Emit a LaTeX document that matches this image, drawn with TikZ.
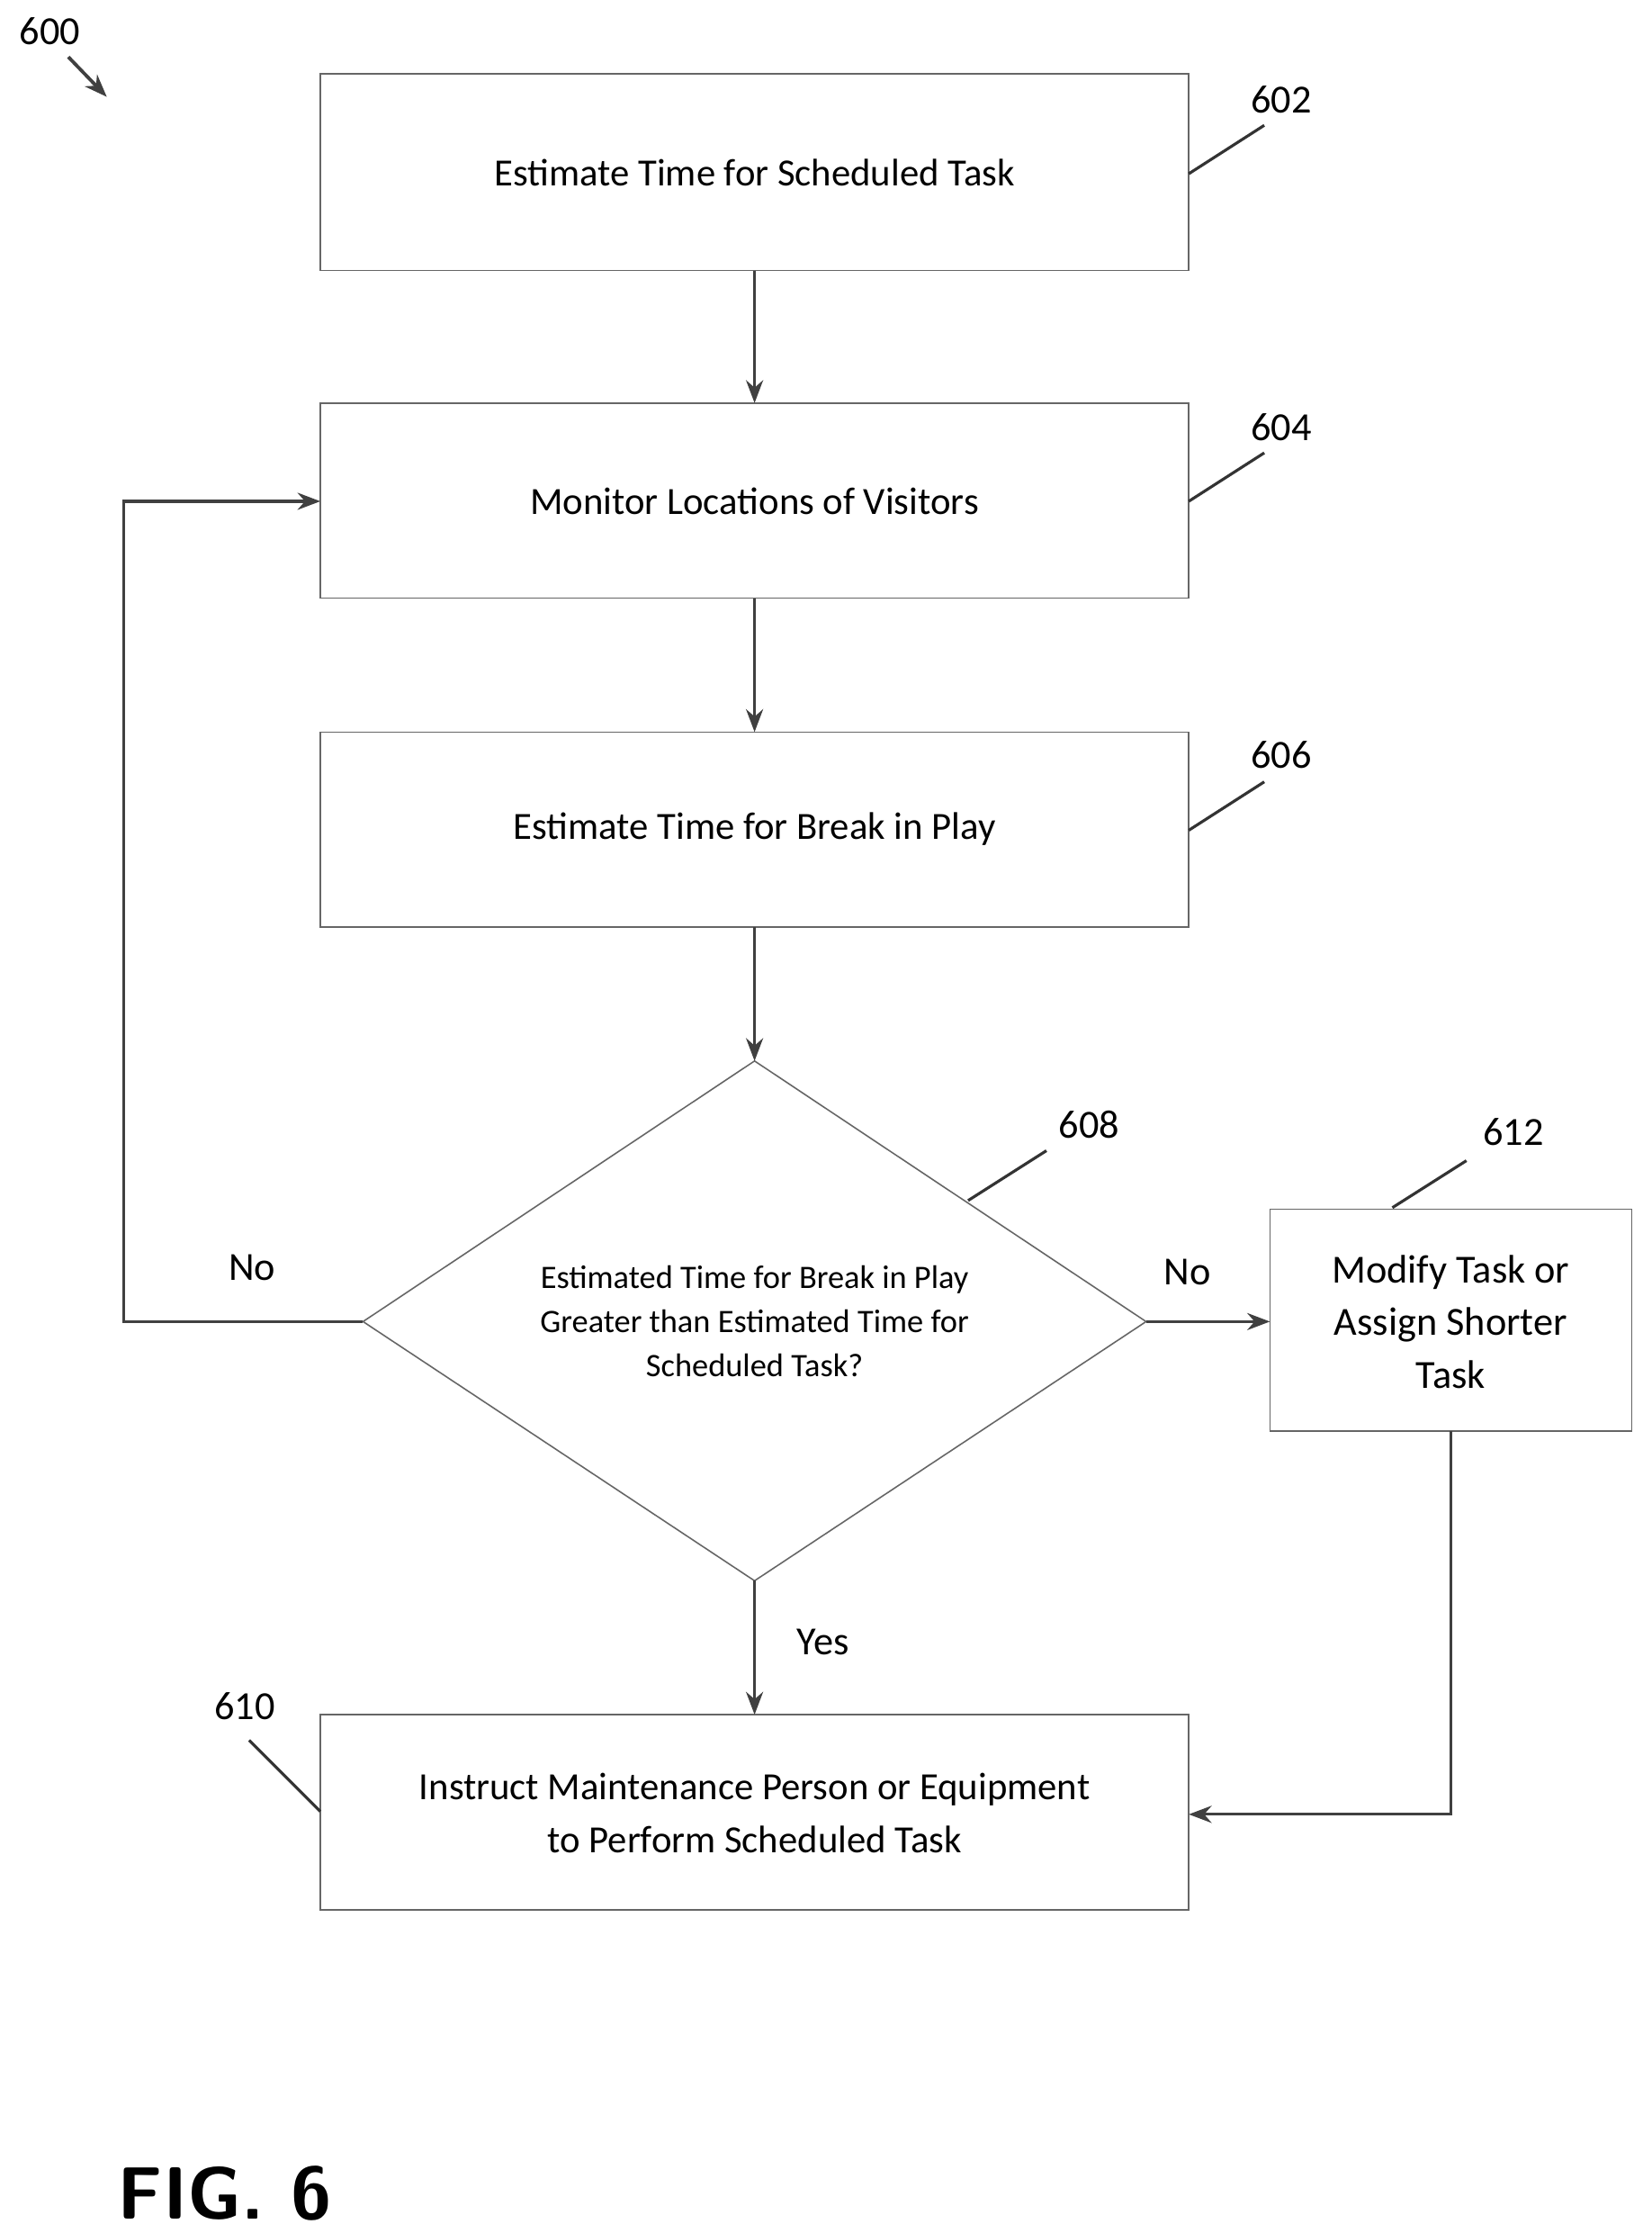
\documentclass[tikz,border=0pt]{standalone}
\usepackage{fontspec}
\setmainfont{Carlito}
\usetikzlibrary{arrows.meta}
\begin{document}
\begin{tikzpicture}[x=0.5pt,y=-0.5pt,
  box/.style={draw=black!60,line width=0.5pt,inner sep=0pt},
  txt/.style={font=\fontsize{13.5}{16.5}\selectfont,align=center},
  lbl/.style={font=\fontsize{14}{16}\selectfont},
  arr/.style={-{Stealth[length=8pt,width=6pt]},line width=1pt,black!75},
  lead/.style={line width=1pt,black!80}]
\useasboundingbox (0,0) rectangle (1160,1568);
\draw[box] (225,52) rectangle (835,190);
\node[txt] (a) at (530,121) {Estimate Time for Scheduled Task};
\coordinate (aT) at (530,190);
\draw[box] (225,283) rectangle (835,420);
\node[txt] (b) at (530,352) {Monitor Locations of Visitors};
\coordinate (bT) at (530,283); \coordinate (bB) at (530,420); \coordinate (bL) at (225,352);
\draw[box] (225,514) rectangle (835,651);
\node[txt] (c) at (530,582) {Estimate Time for Break in Play};
\coordinate (cT) at (530,514); \coordinate (cB) at (530,651);
\draw[box] (530,745) -- (805,928) -- (530,1110) -- (255,928) -- cycle;
\node[txt,font=\fontsize{11.5}{15.5}\selectfont] (d) at (530,928) {Estimated Time for Break in Play\\Greater than Estimated Time for\\Scheduled Task?};
\coordinate (dT) at (530,745); \coordinate (dB) at (530,1110); \coordinate (dL) at (255,928); \coordinate (dR) at (805,928);
\draw[box] (892,849) rectangle (1146,1005);
\node[txt,font=\fontsize{14}{18.5}\selectfont] (e) at (1019,928) {Modify Task or\\Assign Shorter\\Task};
\coordinate (eL) at (892,928); \coordinate (eB) at (1019,1005);
\draw[box] (225,1204) rectangle (835,1341);
\node[txt,font=\fontsize{13.5}{18.5}\selectfont] (f) at (530,1273) {Instruct Maintenance Person or Equipment\\to Perform Scheduled Task};
\coordinate (fT) at (530,1204); \coordinate (fR) at (835,1274);
\draw[arr] (aT) -- (bT);
\draw[arr] (bB) -- (cT);
\draw[arr] (cB) -- (dT);
\draw[arr] (dB) -- (fT);
\draw[arr] (dR) -- (eL);
\draw[arr] (dL) -- (87,928) -- (87,352) -- (bL);
\draw[arr] (eB) -- (1019,1274) -- (fR);
\node[lbl] (n1) at (177,890) {No};
\node[lbl] (n2) at (834,893) {No};
\node[lbl] (y) at (578,1153) {Yes};
\node[lbl] (l602) at (900,70) {602};
\draw[lead] (835,122) -- (888,88);
\node[lbl] (l604) at (900,300) {604};
\draw[lead] (835,352) -- (888,318);
\node[lbl] (l606) at (900,530) {606};
\draw[lead] (835,583) -- (888,549);
\node[lbl] (l608) at (765,790) {608};
\draw[lead] (680,843) -- (735,808);
\node[lbl] (l612) at (1063,795) {612};
\draw[lead] (978,848) -- (1030,815);
\node[lbl] (l610) at (172,1198) {610};
\draw[lead] (225,1272) -- (175,1222);
\node[lbl] (l600) at (35,22) {600};
\draw[arr,line width=1.2pt] (48,40) -- (75,68);
\node[font=\sffamily\bfseries\fontsize{26}{30}\selectfont] (fig) at (158,1540) {FIG. 6};
\end{tikzpicture}
\end{document}
